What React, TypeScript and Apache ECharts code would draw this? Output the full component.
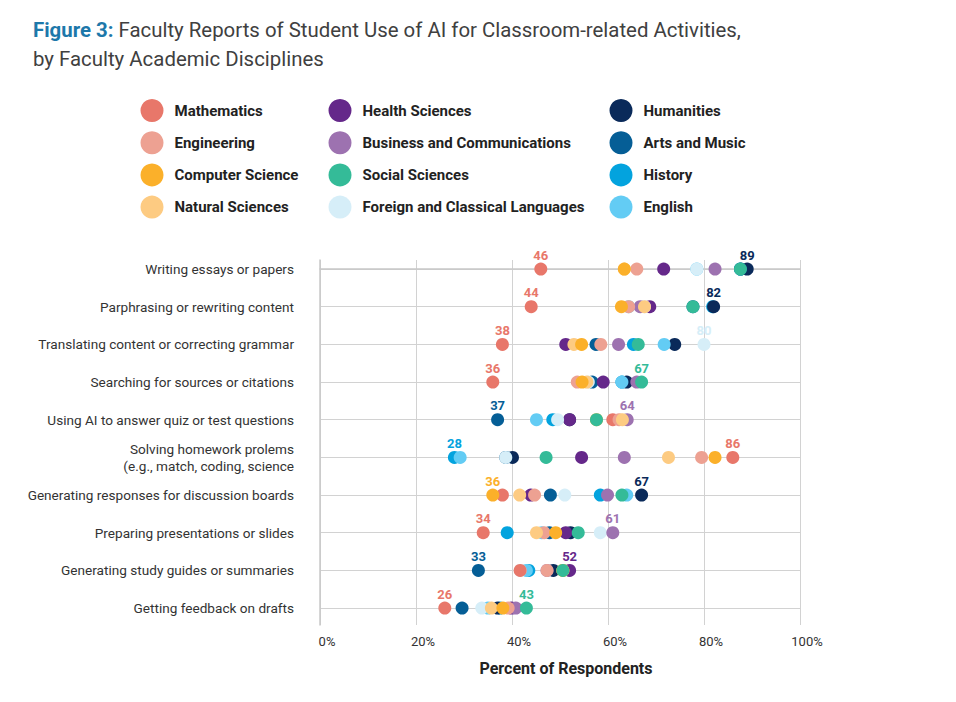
import React, { useEffect, useRef } from "react";
import * as echarts from "echarts";

const categories = [
  "Writing essays or papers",
  "Parphrasing or rewriting content",
  "Translating content or correcting grammar",
  "Searching for sources or citations",
  "Using AI to answer quiz or test questions",
  "Solving homework prolems\n(e.g., match, coding, science",
  "Generating responses for discussion boards",
  "Preparing presentations or slides",
  "Generating study guides or summaries",
  "Getting feedback on drafts",
];

const xTicks = [0, 20, 40, 60, 80, 100];

// values per discipline, one per activity (top to bottom)
const mathematics = [46, 44, 38, 36, 61.0, 86, 38.0, 34, 41.7, 26];
const engineering = [66.0, 64.3, 58.5, 53.6, 62.3, 79.5, 44.7, 46.7, 47.3, 39.2];
const computerScience = [63.4, 62.8, 54.5, 54.6, 57.6, 82.3, 36, 49.1, 50.6, 38.1];
const naturalSciences = [63.4, 67.6, 52.9, 55.6, 63.0, 72.6, 41.6, 45.1, 50.6, 35.7];
const healthSciences = [71.6, 68.7, 51.2, 59.0, 52.0, 54.5, 43.9, 51.2, 52, 39.9];
const business = [82.3, 66.7, 62.2, 66.0, 64, 63.4, 59.9, 61, 47.3, 40.8];
const socialSciences = [87.6, 77.7, 66.3, 67, 57.6, 47.1, 62.9, 53.8, 50.6, 43];
const foreignLanguages = [78.5, 67.6, 80, 55.9, 49.5, 38.7, 51.0, 58.4, 41.7, 33.7];
const humanities = [89, 82, 73.9, 63.9, 52.0, 40.1, 67, 52.2, 48.6, 37.0];
const artsMusic = [87.6, 77.7, 57.5, 56.7, 37, 38.7, 48.0, 47.8, 33, 29.6];
const history = [87.6, 81.8, 65.3, 62.9, 48.5, 28, 58.4, 39.0, 43.5, 37.5];
const english = [78.5, 64.3, 71.7, 62.9, 45.1, 29.2, 63.9, 46.2, 43.0, 35.0];

const disciplines = [
  { name: "Mathematics", color: "#E8776A", values: mathematics },
  { name: "Engineering", color: "#EDA192", values: engineering },
  { name: "Computer Science", color: "#FBB02A", values: computerScience },
  { name: "Natural Sciences", color: "#FDCB82", values: naturalSciences },
  { name: "Health Sciences", color: "#65288A", values: healthSciences },
  { name: "Business and Communications", color: "#9D72B0", values: business },
  { name: "Social Sciences", color: "#34BB98", values: socialSciences },
  { name: "Foreign and Classical Languages", color: "#D6EEF8", values: foreignLanguages },
  { name: "Humanities", color: "#0A2A5A", values: humanities },
  { name: "Arts and Music", color: "#055E96", values: artsMusic },
  { name: "History", color: "#03A3DE", values: history },
  { name: "English", color: "#63CCF4", values: english },
];

// drawing order (bottom -> top)
const drawOrder = [
  "History",
  "Humanities",
  "Arts and Music",
  "Health Sciences",
  "English",
  "Foreign and Classical Languages",
  "Business and Communications",
  "Mathematics",
  "Engineering",
  "Natural Sciences",
  "Computer Science",
  "Social Sciences",
];

const FONT = "Roboto, 'Noto Sans', sans-serif";

export default function App() {
  const ref = useRef<HTMLDivElement>(null);
  useEffect(() => {
    document.body.style.margin = "0";
    if (!ref.current) return;
    const chart = echarts.init(ref.current, null, { renderer: "svg" });

    const rowMin = categories.map((_, i) => Math.min(...disciplines.map((d) => d.values[i])));
    const rowMax = categories.map((_, i) => Math.max(...disciplines.map((d) => d.values[i])));

    const series = drawOrder.map((n) => {
      const d = disciplines.find((x) => x.name === n)!;
      return {
        type: "scatter",
        name: d.name,
        symbol: "circle",
        symbolSize: 13,
        itemStyle: { color: d.color, opacity: 1 },
        label: {
          position: "top",
          distance: 1,
          color: d.color,
          fontSize: 13,
          fontWeight: "bold",
          fontFamily: FONT,
          formatter: (p: any) => String(Math.round(p.value[0])),
        },
        data: d.values.map((v, i) => ({
          value: [v, i],
          label: { show: v === rowMin[i] || v === rowMax[i] },
        })),
      };
    });

    const legendCol = (names: string[], left: number) => ({
      orient: "vertical",
      left,
      top: 94,
      data: names,
      icon: "circle",
      itemWidth: 23,
      itemHeight: 23,
      itemGap: 9.2,
      selectedMode: false,
      textStyle: { fontSize: 15, fontWeight: "bold", color: "#222", fontFamily: FONT, padding: [0, 0, 0, 6] },
    });

    chart.setOption({
      animation: false,
      title: {
        text: "{b|Figure 3:} Faculty Reports of Student Use of AI for Classroom-related Activities,\nby Faculty Academic Disciplines",
        left: 28,
        top: 10.5,
        textStyle: {
          fontFamily: FONT,
          fontSize: 20.4,
          fontWeight: "normal",
          color: "#404040",
          lineHeight: 29,
          rich: {
            b: { fontFamily: FONT, fontSize: 20.4, fontWeight: "bold", color: "#1D78AA", lineHeight: 29 },
          },
        },
      },
      legend: [
        legendCol(["Mathematics", "Engineering", "Computer Science", "Natural Sciences"], 135.5),
        legendCol(["Health Sciences", "Business and Communications", "Social Sciences", "Foreign and Classical Languages"], 323.5),
        legendCol(["Humanities", "Arts and Music", "History", "English"], 604.5),
      ],
      grid: { left: 320, right: 156, top: 260, bottom: 77 },
      xAxis: {
        type: "value",
        min: 0,
        max: 100,
        interval: 20,
        axisLine: { show: true, lineStyle: { color: "#c8c8c8", width: 1.5 } },
        axisTick: { show: false },
        splitLine: { show: true, lineStyle: { color: "#d2d2d2", width: 1 } },
        axisLabel: {
          formatter: (v: number) => (xTicks.includes(v) ? v + "%" : ""),
          color: "#333",
          fontSize: 13,
          fontFamily: FONT,
          margin: 10,
          padding: [0, 0, 0, 14],
        },
        name: "Percent of Respondents",
        nameLocation: "middle",
        nameGap: 35,
        nameTextStyle: { fontSize: 16, fontWeight: "bold", color: "#222", fontFamily: FONT, padding: [0, 0, 0, 12] },
      },
      yAxis: {
        type: "value",
        inverse: true,
        min: -0.24,
        max: 9.45,
        axisLine: { show: true, lineStyle: { color: "#c8c8c8", width: 1.5 } },
        axisTick: { show: false, customValues: categories.map((_, i) => i) },
        splitLine: { show: true, lineStyle: { color: "#d2d2d2", width: 1 } },
        axisLabel: {
          customValues: categories.map((_, i) => i),
          formatter: (v: number) => categories[Math.round(v)] ?? "",
          color: "#333",
          fontSize: 13.6,
          fontFamily: FONT,
          margin: 26,
          lineHeight: 17,
          align: "right",
        },
      },
      series,
    });
    return () => chart.dispose();
  }, []);
  return <div ref={ref} style={{ width: 956, height: 702 }} />;
}
